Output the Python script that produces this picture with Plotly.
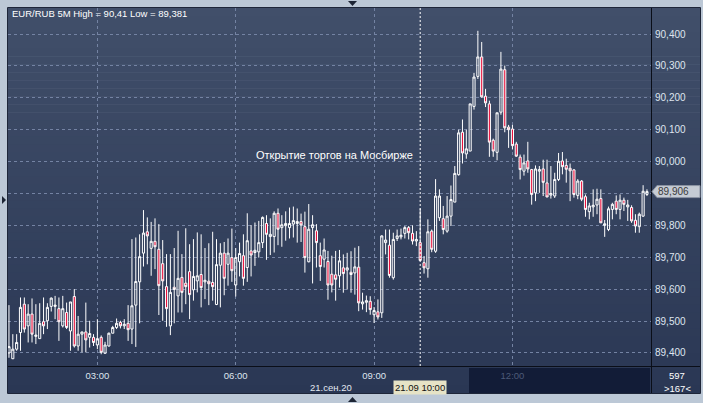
import plotly.graph_objects as go
import pandas as pd

# ---------------- data (EUR/RUB, 5-minute candles, 21.09.2020) ----------------
start_time = "2020-09-21 01:05"
open_ = [89.400, 89.382, 89.412, 89.464, 89.553, 89.485, 89.522, 89.452, 89.445, 89.498,
         89.501, 89.546, 89.546, 89.539, 89.485, 89.527, 89.469, 89.577, 89.422, 89.459,
         89.466, 89.449, 89.449, 89.425, 89.449, 89.399, 89.422, 89.462, 89.480, 89.496,
         89.485, 89.493, 89.475, 89.550, 89.623, 89.713, 89.780, 89.728, 89.750, 89.725,
         89.680, 89.608, 89.485, 89.606, 89.579, 89.637, 89.619, 89.655, 89.598, 89.626,
         89.646, 89.623, 89.625, 89.621, 89.552, 89.675, 89.713, 89.678, 89.699, 89.613,
         89.686, 89.705, 89.668, 89.720, 89.715, 89.717, 89.746, 89.806, 89.765, 89.765,
         89.838, 89.793, 89.799, 89.793, 89.804, 89.806, 89.812, 89.796, 89.686, 89.793,
         89.783, 89.705, 89.694, 89.687, 89.647, 89.645, 89.642, 89.667, 89.660, 89.653,
         89.651, 89.669, 89.554, 89.559, 89.562, 89.520, 89.529, 89.526, 89.746, 89.738,
         89.636, 89.759, 89.764, 89.775, 89.793, 89.775, 89.751, 89.746, 89.683, 89.664,
         89.782, 89.719, 89.824, 89.821, 89.782, 89.829, 89.873, 89.959, 90.092, 90.024,
         90.033, 90.173, 90.267, 90.328, 90.205, 90.181, 90.067, 90.029, 90.155, 90.288,
         90.108, 90.102, 90.055, 90.014, 89.970, 90.002, 89.975, 89.902, 89.970, 89.977,
         89.933, 89.895, 89.892, 89.944, 90.002, 89.988, 89.979, 89.974, 89.894, 89.939,
         89.890, 89.843, 89.858, 89.864, 89.884, 89.800, 89.787, 89.850, 89.876, 89.850,
         89.879, 89.858, 89.856, 89.816, 89.796, 89.829, 89.897]
high = [89.550, 89.459, 89.459, 89.574, 89.574, 89.553, 89.571, 89.553, 89.556, 89.574,
        89.556, 89.574, 89.579, 89.574, 89.579, 89.558, 89.560, 89.600, 89.516, 89.466,
        89.558, 89.501, 89.459, 89.506, 89.455, 89.435, 89.464, 89.485, 89.508, 89.501,
        89.506, 89.550, 89.757, 89.762, 89.772, 89.848, 89.825, 89.811, 89.822, 89.804,
        89.754, 89.710, 89.710, 89.729, 89.783, 89.710, 89.791, 89.741, 89.757, 89.778,
        89.772, 89.729, 89.744, 89.780, 89.757, 89.744, 89.748, 89.759, 89.790, 89.729,
        89.746, 89.772, 89.838, 89.801, 89.809, 89.814, 89.828, 89.832, 89.822, 89.844,
        89.853, 89.832, 89.844, 89.856, 89.859, 89.853, 89.837, 89.843, 89.867, 89.832,
        89.804, 89.746, 89.759, 89.720, 89.705, 89.720, 89.723, 89.709, 89.714, 89.719,
        89.730, 89.735, 89.589, 89.580, 89.578, 89.544, 89.568, 89.769, 89.787, 89.787,
        89.777, 89.787, 89.790, 89.798, 89.798, 89.800, 89.782, 89.853, 89.704, 89.819,
        89.787, 89.945, 89.913, 89.861, 89.892, 89.925, 89.986, 90.100, 90.132, 90.100,
        90.181, 90.278, 90.410, 90.375, 90.228, 90.191, 90.072, 90.153, 90.344, 90.301,
        90.115, 90.115, 90.062, 90.022, 90.022, 90.062, 89.977, 89.988, 89.986, 90.006,
        90.006, 89.986, 89.965, 90.027, 90.030, 90.009, 89.994, 89.976, 89.945, 89.942,
        89.897, 89.871, 89.913, 89.915, 89.913, 89.817, 89.859, 89.871, 89.894, 89.897,
        89.887, 89.880, 89.863, 89.835, 89.840, 89.926, 89.913]
low = [89.385, 89.381, 89.407, 89.407, 89.464, 89.433, 89.433, 89.428, 89.445, 89.459,
       89.475, 89.530, 89.506, 89.438, 89.480, 89.475, 89.407, 89.417, 89.407, 89.402,
       89.402, 89.417, 89.422, 89.412, 89.396, 89.399, 89.420, 89.462, 89.475, 89.477,
       89.475, 89.438, 89.428, 89.419, 89.493, 89.671, 89.678, 89.642, 89.663, 89.519,
       89.501, 89.482, 89.456, 89.493, 89.527, 89.527, 89.553, 89.506, 89.564, 89.590,
       89.543, 89.569, 89.550, 89.564, 89.550, 89.543, 89.581, 89.611, 89.623, 89.577,
       89.640, 89.611, 89.623, 89.640, 89.673, 89.699, 89.729, 89.692, 89.707, 89.715,
       89.738, 89.733, 89.752, 89.759, 89.762, 89.746, 89.748, 89.652, 89.684, 89.618,
       89.668, 89.626, 89.668, 89.567, 89.590, 89.564, 89.605, 89.589, 89.599, 89.589,
       89.583, 89.531, 89.536, 89.528, 89.520, 89.494, 89.505, 89.510, 89.709, 89.636,
       89.630, 89.751, 89.756, 89.759, 89.756, 89.740, 89.735, 89.688, 89.649, 89.636,
       89.716, 89.714, 89.814, 89.772, 89.777, 89.798, 89.873, 89.956, 89.994, 90.009,
       90.033, 90.163, 90.259, 90.200, 90.171, 90.015, 90.015, 90.004, 90.147, 90.092,
       90.043, 90.038, 90.015, 89.944, 89.956, 89.965, 89.865, 89.876, 89.902, 89.892,
       89.889, 89.884, 89.886, 89.939, 89.960, 89.934, 89.876, 89.887, 89.882, 89.876,
       89.827, 89.819, 89.827, 89.835, 89.808, 89.764, 89.782, 89.819, 89.835, 89.819,
       89.845, 89.814, 89.808, 89.777, 89.777, 89.827, 89.892]
close = [89.420, 89.412, 89.433, 89.543, 89.475, 89.522, 89.459, 89.456, 89.493, 89.485,
         89.543, 89.572, 89.550, 89.498, 89.539, 89.480, 89.560, 89.422, 89.459, 89.466,
         89.441, 89.461, 89.433, 89.445, 89.402, 89.425, 89.462, 89.480, 89.493, 89.485,
         89.490, 89.473, 89.548, 89.624, 89.702, 89.776, 89.767, 89.750, 89.733, 89.611,
         89.626, 89.539, 89.590, 89.599, 89.634, 89.590, 89.608, 89.583, 89.640, 89.642,
         89.605, 89.628, 89.617, 89.608, 89.677, 89.713, 89.634, 89.713, 89.658, 89.699,
         89.712, 89.634, 89.752, 89.707, 89.722, 89.746, 89.825, 89.772, 89.772, 89.838,
         89.788, 89.802, 89.806, 89.806, 89.815, 89.812, 89.801, 89.699, 89.788, 89.802,
         89.746, 89.671, 89.723, 89.613, 89.613, 89.631, 89.689, 89.649, 89.667, 89.646,
         89.670, 89.557, 89.560, 89.564, 89.536, 89.533, 89.513, 89.767, 89.754, 89.643,
         89.756, 89.767, 89.769, 89.793, 89.777, 89.751, 89.756, 89.690, 89.667, 89.780,
         89.725, 89.892, 89.892, 89.787, 89.829, 89.881, 89.963, 90.090, 90.027, 90.040,
         90.181, 90.265, 90.328, 90.203, 90.184, 90.061, 90.033, 90.153, 90.290, 90.106,
         90.100, 90.050, 90.017, 89.975, 89.996, 89.977, 89.897, 89.977, 89.975, 89.935,
         89.889, 89.900, 89.944, 90.001, 89.984, 89.976, 89.971, 89.897, 89.939, 89.882,
         89.850, 89.861, 89.863, 89.882, 89.808, 89.805, 89.852, 89.866, 89.850, 89.879,
         89.866, 89.864, 89.814, 89.798, 89.835, 89.907, 89.906]

price_ticks = [89.4, 89.5, 89.6, 89.7, 89.8, 89.9, 90.0, 90.1, 90.2, 90.3, 90.4]
price_tick_labels = ["89,400", "89,500", "89,600", "89,700", "89,800", "89,900",
                     "90,000", "90,100", "90,200", "90,300", "90,400"]
time_ticks = ["2020-09-21 03:00", "2020-09-21 06:00", "2020-09-21 09:00", "2020-09-21 12:00"]
time_tick_labels = ["03:00", "06:00", "09:00", "<span style='color:#4d5a77'>12:00</span>"]
cursor_time = "2020-09-21 10:00"
title_text = "EUR/RUB 5M High = 90,41 Low = 89,381"
event_text = "Открытие торгов на Мосбирже"
date_text = "21.сен.20"
cursor_text = "21.09 10:00"
corner_top = "597"

times = pd.date_range(start_time, periods=len(close), freq="5min")
last = close[-1]
# the last-price marker hides the tick label it covers
shown_tick_labels = [lab if abs(v - last) > 0.03 else "" for v, lab in zip(price_ticks, price_tick_labels)]

# ---------------- layout geometry helpers ----------------
W, H = 703, 403
PL, PR, PT, PB = 8, 651, 8, 366


def fx(p):
    return (p - PL) / (PR - PL)


def fy(p):
    return (PB - p) / (PB - PT)


FONT = "Liberation Sans, Arial, sans-serif"

fig = go.Figure()
fig.add_trace(go.Candlestick(
    x=times, open=open_, high=high, low=low, close=close,
    increasing=dict(line=dict(color="#ffffff", width=1), fillcolor="rgba(0,0,0,0)"),
    decreasing=dict(line=dict(color="#ffffff", width=1), fillcolor="#e8103c"),
    whiskerwidth=0, showlegend=False, hoverinfo="skip",
))

shapes = []
# vertical gradient background of the main panel
top_c = (65, 79, 106)
bot_c = (42, 55, 84)
N = 48
y0p, y1p = 8, 393
for i in range(N):
    t = (i + 0.5) / N
    c = tuple(int(round(top_c[k] + (bot_c[k] - top_c[k]) * t)) for k in range(3))
    a = y0p + (y1p - y0p) * i / N
    b = y0p + (y1p - y0p) * (i + 1) / N + 0.6
    shapes.append(dict(type="rect", xref="paper", yref="paper", layer="below",
                       x0=fx(8), x1=fx(700), y0=fy(b), y1=fy(a),
                       fillcolor="rgb(%d,%d,%d)" % c, line=dict(width=0)))
# darker highlighted zone in time strip
shapes.append(dict(type="rect", xref="paper", yref="paper", layer="below",
                   x0=fx(469), x1=fx(650), y0=fy(393), y1=fy(368),
                   fillcolor="#121c37", line=dict(width=0)))
# separators
shapes.append(dict(type="line", xref="paper", yref="paper", layer="above",
                   x0=fx(651.5), x1=fx(651.5), y0=fy(393), y1=fy(8),
                   line=dict(color="#0a0e18", width=1)))
shapes.append(dict(type="line", xref="paper", yref="paper", layer="above",
                   x0=fx(8), x1=fx(700), y0=fy(366.5), y1=fy(366.5),
                   line=dict(color="#0a0e18", width=1)))
# outer frame
shapes.append(dict(type="rect", xref="paper", yref="paper", layer="above",
                   x0=fx(7.5), x1=fx(700.5), y0=fy(393.5), y1=fy(7.5),
                   line=dict(color="#1e2639", width=1)))
# crosshair
shapes.append(dict(type="line", xref="x", yref="paper", layer="above",
                   x0=cursor_time, x1=cursor_time, y0=0, y1=1,
                   line=dict(color="#ffffff", width=1, dash="2px,2px")))
# little navigation triangles on the frame
shapes.append(dict(type="path", xref="paper", yref="paper", layer="above",
                   path="M %f,%f L %f,%f L %f,%f Z" % (fx(2), fy(196), fx(6), fy(200), fx(2), fy(204)),
                   fillcolor="#1d2535", line=dict(width=0)))
shapes.append(dict(type="path", xref="paper", yref="paper", layer="above",
                   path="M %f,%f L %f,%f L %f,%f Z" % (fx(348), fy(1), fx(357), fy(1), fx(352.5), fy(6)),
                   fillcolor="#1d2535", line=dict(width=0)))
shapes.append(dict(type="path", xref="paper", yref="paper", layer="above",
                   path="M %f,%f L %f,%f L %f,%f Z" % (fx(348), fy(402), fx(357), fy(402), fx(352.5), fy(397)),
                   fillcolor="#1d2535", line=dict(width=0)))
# last price marker box
dp = 6.0 / 319.0
shapes.append(dict(type="path", xref="paper", yref="y", layer="above",
                   path="M %f,%f L %f,%f L %f,%f L %f,%f L %f,%f Z" % (
                       fx(652), last, fx(657), last + dp, fx(700), last + dp,
                       fx(700), last - dp, fx(657), last - dp),
                   fillcolor="#c5cbd4", line=dict(color="#8b93a3", width=1)))

annotations = [
    dict(text=title_text, xref="paper", yref="paper", x=fx(10), y=fy(13),
         xanchor="left", yanchor="middle", showarrow=False,
         font=dict(family=FONT, size=9.5, color="#ffffff")),
    dict(text=event_text, xref="x", yref="y", x=cursor_time, y=90.02, xshift=-5,
         xanchor="right", yanchor="middle", showarrow=False,
         font=dict(family=FONT, size=11, color="#ffffff")),
    dict(text=date_text, xref="paper", yref="paper", x=fx(331), y=fy(387.5),
         xanchor="center", yanchor="middle", showarrow=False,
         font=dict(family=FONT, size=9.5, color="#e3e8f1")),
    dict(text=cursor_text, xref="x", yref="paper", x=cursor_time, y=fy(387),
         xanchor="center", yanchor="middle", showarrow=False,
         bgcolor="#e6e3c6", borderpad=1,
         font=dict(family=FONT, size=9.5, color="#111111")),
    dict(text=corner_top, xref="paper", yref="paper", x=fx(677), y=fy(375.5),
         xanchor="center", yanchor="middle", showarrow=False,
         font=dict(family=FONT, size=9.5, color="#ffffff")),
    dict(text="&gt;%d&lt;" % len(close), xref="paper", yref="paper", x=fx(677), y=fy(388),
         xanchor="center", yanchor="middle", showarrow=False,
         font=dict(family=FONT, size=9.5, color="#ffffff")),
    dict(text=("%.3f" % last).replace(".", ","), xref="paper", yref="y", x=fx(656), y=last,
         xanchor="left", yanchor="middle", showarrow=False,
         font=dict(family=FONT, size=10, color="#3a3a3a")),
]

grid_col = "#7483a3"
fig.update_layout(
    template="none",
    width=W, height=H,
    margin=dict(l=PL, r=W - PR, t=PT, b=H - PB, pad=0, autoexpand=False),
    paper_bgcolor="#bcc8d6",
    plot_bgcolor="rgba(0,0,0,0)",
    font=dict(family=FONT, size=10, color="#e2e7f0"),
    showlegend=False,
    hovermode=False,
    boxgap=0.45, boxgroupgap=0,
    shapes=shapes,
    annotations=annotations,
    xaxis=dict(
        type="date",
        range=["2020-09-21 01:03:45", "2020-09-21 15:00:15"],
        rangeslider=dict(visible=False),
        automargin=False,
        tickmode="array", tickvals=time_ticks, ticktext=time_tick_labels,
        showgrid=True, gridcolor=grid_col, griddash="3px,3px", gridwidth=1,
        zeroline=False, showline=False, ticks="",
        tickfont=dict(family=FONT, size=9.5, color="#dfe5ef"),
        ticklabelstandoff=2,
        fixedrange=True,
    ),
    yaxis=dict(
        side="right",
        range=[89.3592, 90.4815],
        automargin=False,
        tickmode="array", tickvals=price_ticks, ticktext=shown_tick_labels,
        showgrid=True, gridcolor=grid_col, griddash="3px,3px", gridwidth=1,
        zeroline=False, showline=False, ticks="",
        tickfont=dict(family=FONT, size=10, color="#dfe5ef"),
        ticklabelstandoff=3,
        fixedrange=True,
    ),
)

fig.write_html("out.html", config={"displayModeBar": False},
               post_script="document.body.style.margin='0px';document.body.style.overflow='hidden';")
